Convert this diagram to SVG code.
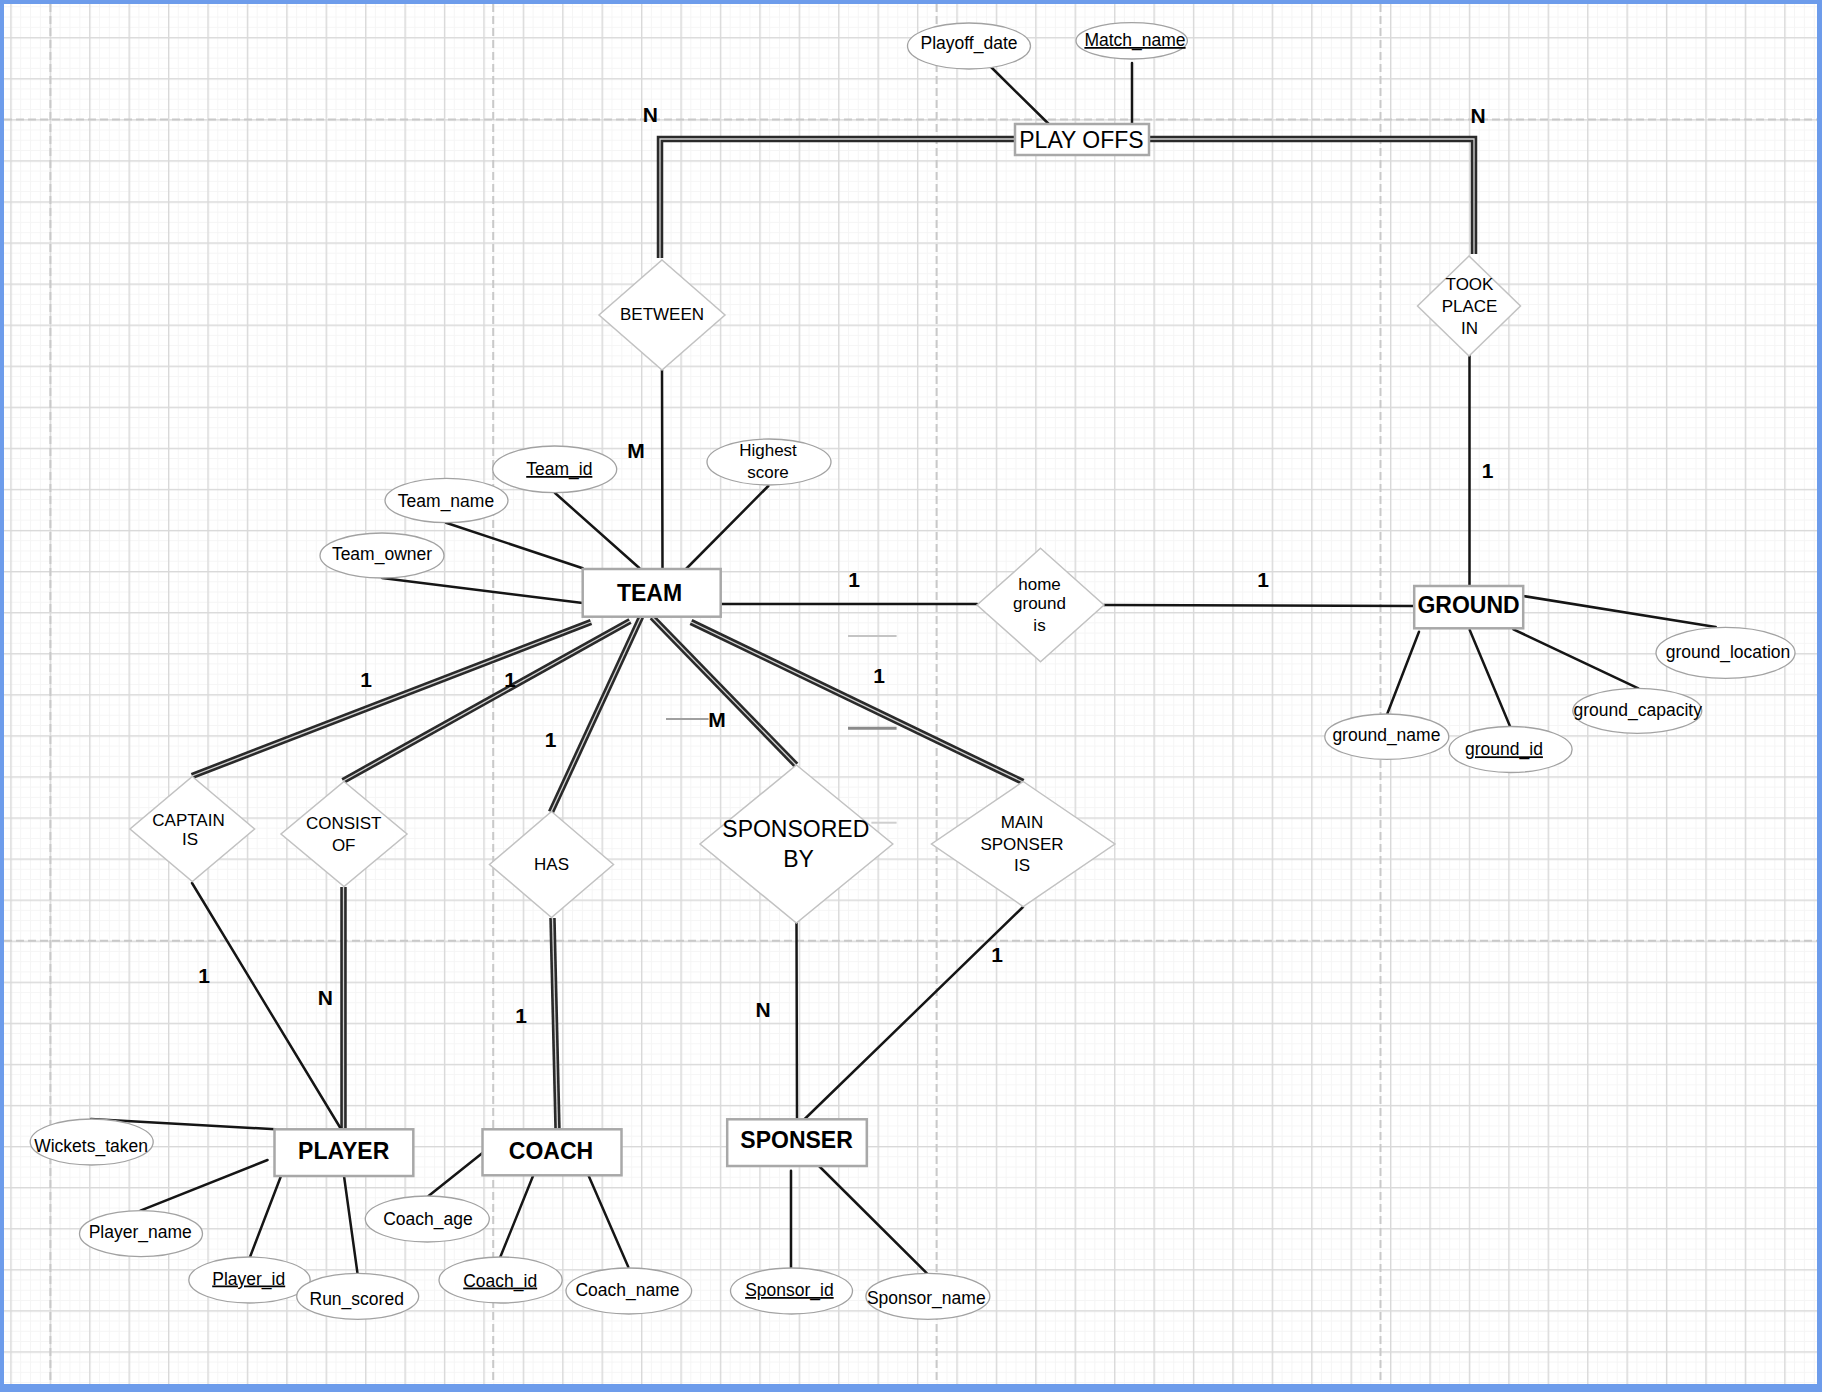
<svg xmlns="http://www.w3.org/2000/svg" width="1822" height="1392" viewBox="0 0 1822 1392">
<style>
.ln{stroke:#151515;stroke-width:2.5;fill:none;stroke-linecap:round}
.dbl{stroke:#2a2a2a;stroke-width:6.5;fill:none}
.dblin{stroke:#d4d4d4;stroke-width:1.3;fill:none}
.box{fill:#fff;stroke:#a8a8a8;stroke-width:2.5}
.dia{fill:#fff;stroke:#c2c2c2;stroke-width:1.5}
.ell{fill:#fff;stroke:#a2a2a2;stroke-width:1.3}
text{font-family:"Liberation Sans",Arial,sans-serif;fill:#000;text-anchor:middle}
.ent{font-size:23px;font-weight:bold}
.po{font-size:23px}
.attr{font-size:17.5px}
.rel{font-size:17px}
.big{font-size:23px}
.lbl{font-size:21px;font-weight:bold}
.u{text-decoration:underline}
.page{stroke:#c9c9c9;stroke-width:2;stroke-dasharray:8 4;fill:none}
.stray{fill:none}
</style>
<defs>
<pattern id="minor" patternUnits="userSpaceOnUse" x="10.3" y="37.1" width="9.855" height="10.2675">
<rect x="0" y="0" width="1" height="10.2675" fill="#f5f5f5"/>
<rect x="0" y="0" width="9.855" height="1" fill="#f5f5f5"/>
</pattern>
<pattern id="major" patternUnits="userSpaceOnUse" x="10.3" y="37.1" width="39.42" height="41.07">
<rect x="0" y="0" width="1.4" height="41.07" fill="#d9d9d9"/>
<rect x="0" y="0" width="39.42" height="1.4" fill="#d9d9d9"/>
</pattern>
<path id="c1" d="M1015 139 H660 V258"/>
<path id="c2" d="M1149 139 H1474 V254"/>
<path id="c3" d="M591 622 L192 776"/>
<path id="c4" d="M630 621 L343 781"/>
<path id="c5" d="M641 617 L551 812"/>
<path id="c6" d="M652 617 L796 765"/>
<path id="c7" d="M691 622 L1023 782"/>
<path id="c8" d="M343.5 887 V1129"/>
<path id="c9" d="M552.5 918 L557.5 1129"/>
</defs>

<g id="background">
<rect x="0" y="0" width="1822" height="1392" fill="#6d9ceb"/>
<rect x="4" y="4" width="1813" height="1380" fill="#fff"/>
<rect x="4" y="4" width="1813" height="1380" fill="url(#minor)"/>
<rect x="4" y="4" width="1813" height="1380" fill="url(#major)"/>
<path class="page" d="M50.4 4 V1384 M493.2 4 V1384 M936.6 4 V1384 M1380.5 4 V1384 M4 119.4 H1817 M4 940.7 H1817"/>
</g>

<g id="connectors">
<use href="#c1" class="dbl"/><use href="#c1" class="dblin"/>
<use href="#c2" class="dbl"/><use href="#c2" class="dblin"/>
<use href="#c3" class="dbl"/><use href="#c3" class="dblin"/>
<use href="#c4" class="dbl"/><use href="#c4" class="dblin"/>
<use href="#c5" class="dbl"/><use href="#c5" class="dblin"/>
<use href="#c6" class="dbl"/><use href="#c6" class="dblin"/>
<use href="#c7" class="dbl"/><use href="#c7" class="dblin"/>
<use href="#c8" class="dbl"/><use href="#c8" class="dblin"/>
<use href="#c9" class="dbl"/><use href="#c9" class="dblin"/>
<path class="ln" d="M662 370 L662.5 569"/>
<path class="ln" d="M1469.5 356 V586"/>
<path class="ln" d="M720 604 H977"/>
<path class="ln" d="M1104 605 L1414 606"/>
<path class="ln" d="M192 883 L341 1129"/>
<path class="ln" d="M796.5 923 L797 1119"/>
<path class="ln" d="M1023 907 L801.6 1122"/>
<path class="ln" d="M991 67 L1049.8 125"/>
<path class="ln" d="M1132 63 V124"/>
<path class="ln" d="M555 493 L639.3 568"/>
<path class="ln" d="M768.3 486 L686 569"/>
<path class="ln" d="M446 522.7 L582.7 568.3"/>
<path class="ln" d="M382 578 L582.7 603"/>
<path class="ln" d="M1523.3 596 L1715.7 627"/>
<path class="ln" d="M1513.4 629.3 L1638.3 688.3"/>
<path class="ln" d="M1469.7 630 L1510.2 726.7"/>
<path class="ln" d="M1419 631.7 L1387.2 714"/>
<path class="ln" d="M91 1119 L275.3 1129.3"/>
<path class="ln" d="M140.4 1210.7 L267.5 1160"/>
<path class="ln" d="M250 1257 L281 1176"/>
<path class="ln" d="M357.5 1273.3 L344 1176"/>
<path class="ln" d="M428.5 1196 L484 1151.7"/>
<path class="ln" d="M500.2 1257.3 L533 1176"/>
<path class="ln" d="M628.3 1267 L588.3 1175"/>
<path class="ln" d="M791 1170.7 V1268.3"/>
<path class="ln" d="M819 1166 L926.9 1273.3"/>
<path class="stray" stroke="#a0a0a0" stroke-width="2" d="M666 719 H708.6"/>
<path class="stray" stroke="#c4c4c4" stroke-width="2" d="M848 636 H896.6"/>
<path class="stray" stroke="#8a8a8a" stroke-width="3" d="M848 728.3 H896.6"/>
<path class="stray" stroke="#cfcfcf" stroke-width="2" d="M871.4 822.7 H896.6"/>
</g>

<g id="labels">
<text class="lbl" x="650.3" y="122">N</text>
<text class="lbl" x="1478" y="123">N</text>
<text class="lbl" x="636" y="458">M</text>
<text class="lbl" x="1487.5" y="478">1</text>
<text class="lbl" x="854" y="587">1</text>
<text class="lbl" x="1263" y="587">1</text>
<text class="lbl" x="366" y="687">1</text>
<text class="lbl" x="510" y="687">1</text>
<text class="lbl" x="550.6" y="747">1</text>
<text class="lbl" x="717" y="727">M</text>
<text class="lbl" x="879" y="683">1</text>
<text class="lbl" x="204" y="983">1</text>
<text class="lbl" x="325.4" y="1005">N</text>
<text class="lbl" x="521" y="1023">1</text>
<text class="lbl" x="763" y="1017">N</text>
<text class="lbl" x="997" y="962">1</text>
</g>

<g id="playoffs"><rect class="box" x="1015" y="124" width="134" height="31"/><text class="po" x="1081.5" y="147.5">PLAY OFFS</text></g>
<g id="playoff_date"><ellipse class="ell" cx="969" cy="46" rx="61.5" ry="23"/><text class="attr" x="969" y="49">Playoff_date</text></g>
<g id="match_name"><ellipse class="ell" cx="1131.7" cy="40.8" rx="55.7" ry="18.2"/><text class="attr u" x="1135" y="46">Match_name</text></g>

<g id="between"><polygon class="dia" points="662,260 725,315 662,370 599,315"/><text class="rel" x="662" y="320">BETWEEN</text></g>
<g id="took_place_in"><polygon class="dia" points="1469,256 1520.5,306 1469,356 1417.5,306"/><text class="rel" x="1469.5" y="290">TOOK</text><text class="rel" x="1469.5" y="312">PLACE</text><text class="rel" x="1469.5" y="334">IN</text></g>
<g id="home_ground_is"><polygon class="dia" points="1040.5,548.3 1104,605 1040.5,661.7 977,605"/><text class="rel" x="1039.5" y="590">home</text><text class="rel" x="1039.5" y="609">ground</text><text class="rel" x="1039.5" y="631">is</text></g>

<g id="team"><rect class="box" x="582.7" y="569" width="138" height="47.7"/><text class="ent" x="649.5" y="600.5">TEAM</text></g>
<g id="team_id"><ellipse class="ell" cx="554.7" cy="469.3" rx="62" ry="23.3"/><text class="attr u" x="559.3" y="475">Team_id</text></g>
<g id="highest_score"><ellipse class="ell" cx="769" cy="462" rx="62" ry="23"/><text class="rel" x="768" y="456">Highest</text><text class="rel" x="768" y="478">score</text></g>
<g id="team_name"><ellipse class="ell" cx="446.5" cy="500.5" rx="61.5" ry="22.2"/><text class="attr" x="446" y="507">Team_name</text></g>
<g id="team_owner"><ellipse class="ell" cx="382" cy="555.5" rx="62" ry="22.5"/><text class="attr" x="382" y="560">Team_owner</text></g>

<g id="ground"><rect class="box" x="1414.2" y="586" width="109" height="42.3"/><text class="ent" x="1468.5" y="613.3">GROUND</text></g>
<g id="ground_location"><ellipse class="ell" cx="1725.5" cy="652.8" rx="69.5" ry="25.5"/><text class="attr" x="1728" y="657.5">ground_location</text></g>
<g id="ground_capacity"><ellipse class="ell" cx="1637.3" cy="710.8" rx="64.5" ry="22.5"/><text class="attr" x="1637.7" y="716">ground_capacity</text></g>
<g id="ground_id"><ellipse class="ell" cx="1510.6" cy="749.5" rx="61.5" ry="23"/><text class="attr u" x="1504" y="755.3">ground_id</text></g>
<g id="ground_name"><ellipse class="ell" cx="1386.8" cy="736.7" rx="62" ry="22.7"/><text class="attr" x="1386.4" y="741">ground_name</text></g>

<g id="captain_is"><polygon class="dia" points="192.3,776.5 254.6,829 192.3,881.5 130,829"/><text class="rel" x="188.5" y="826">CAPTAIN</text><text class="rel" x="190" y="845">IS</text></g>
<g id="consist_of"><polygon class="dia" points="344,781.5 407,834 344,886.5 281,834"/><text class="rel" x="343.7" y="829">CONSIST</text><text class="rel" x="343.7" y="851">OF</text></g>
<g id="has"><polygon class="dia" points="551.5,811.5 613.5,864.5 551.5,917.5 489.5,864.5"/><text class="rel" x="551.5" y="870">HAS</text></g>
<g id="sponsored_by"><polygon class="dia" points="796.4,765 892.8,844 796.4,923 700,844"/><text class="big" x="795.8" y="837">SPONSORED</text><text class="big" x="798.5" y="867">BY</text></g>
<g id="main_sponser_is"><polygon class="dia" points="1023.2,781.5 1114.9,844 1023.2,906.5 931.5,844"/><text class="rel" x="1022" y="828">MAIN</text><text class="rel" x="1022" y="850">SPONSER</text><text class="rel" x="1022" y="871">IS</text></g>

<g id="player"><rect class="box" x="274.5" y="1129.3" width="138.8" height="46.7"/><text class="ent" x="343.7" y="1159.3">PLAYER</text></g>
<g id="wickets_taken"><ellipse class="ell" cx="91.7" cy="1142" rx="61.5" ry="23"/><text class="attr" x="91.1" y="1152">Wickets_taken</text></g>
<g id="player_name"><ellipse class="ell" cx="141" cy="1233.7" rx="61.5" ry="23"/><text class="attr" x="140.2" y="1238">Player_name</text></g>
<g id="player_id"><ellipse class="ell" cx="249.5" cy="1280" rx="60.7" ry="23"/><text class="attr u" x="248.7" y="1284.5">Player_id</text></g>
<g id="run_scored"><ellipse class="ell" cx="357.7" cy="1296.3" rx="61" ry="23"/><text class="attr" x="356.7" y="1305">Run_scored</text></g>

<g id="coach"><rect class="box" x="482.5" y="1129.3" width="139" height="46"/><text class="ent" x="551" y="1159">COACH</text></g>
<g id="coach_age"><ellipse class="ell" cx="427.3" cy="1219" rx="62" ry="23"/><text class="attr" x="428" y="1224.5">Coach_age</text></g>
<g id="coach_id"><ellipse class="ell" cx="500.6" cy="1280" rx="61.6" ry="23"/><text class="attr u" x="500.2" y="1286.6">Coach_id</text></g>
<g id="coach_name"><ellipse class="ell" cx="628.8" cy="1291" rx="62.8" ry="23"/><text class="attr" x="627.5" y="1296">Coach_name</text></g>

<g id="sponser"><rect class="box" x="727.2" y="1119.3" width="139.6" height="46.7"/><text class="ent" x="796.6" y="1148.3">SPONSER</text></g>
<g id="sponsor_id"><ellipse class="ell" cx="791.5" cy="1291" rx="61" ry="23"/><text class="attr u" x="789.4" y="1296">Sponsor_id</text></g>
<g id="sponsor_name"><ellipse class="ell" cx="927.9" cy="1296.3" rx="62" ry="23"/><text class="attr" x="926.3" y="1304.3">Sponsor_name</text></g>
</svg>
